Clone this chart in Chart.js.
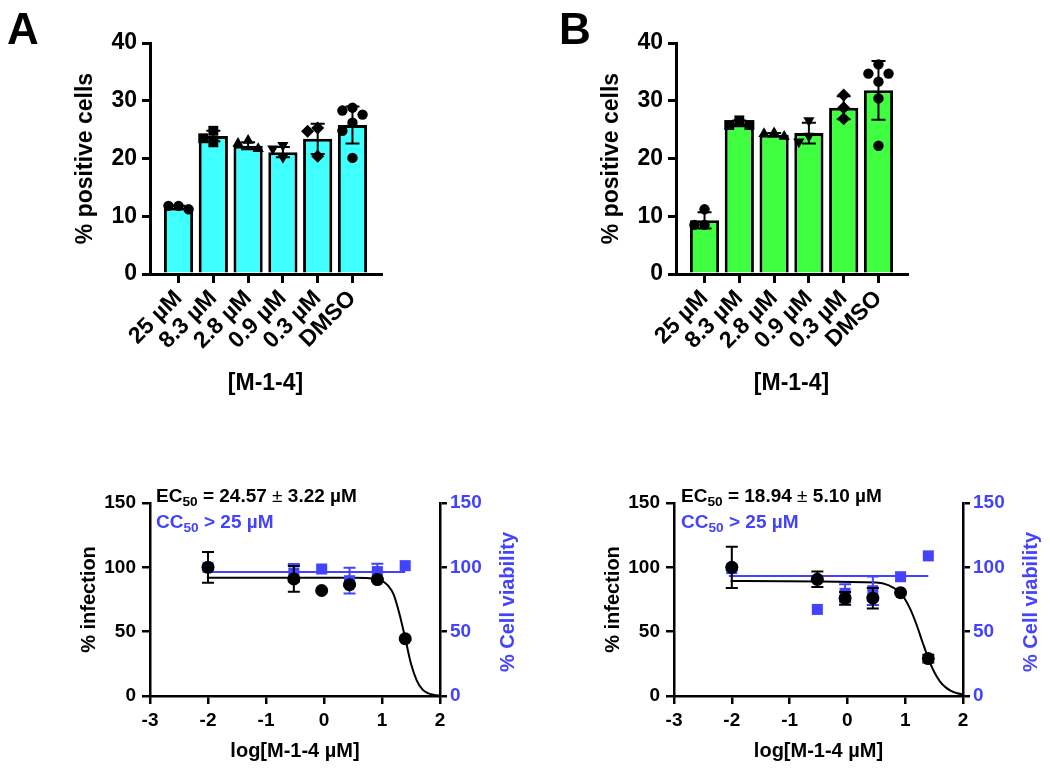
<!DOCTYPE html>
<html>
<head>
<meta charset="utf-8">
<script src="https://cdn.jsdelivr.net/npm/chart.js@4.4.1/dist/chart.umd.min.js"></script>
<style>
  body { margin: 0; background: #fff; font-family: 'Liberation Sans', Arial, sans-serif; }
  #wrap { position: relative; width: 1050px; height: 773px; overflow: hidden; }
  canvas { position: absolute; }
  .lbl { position: absolute; font-weight: bold; white-space: nowrap; line-height: 1; color: #000; }
  .lbl sub { font-size: 0.72em; vertical-align: -0.3em; line-height: 0; }
  .blue { color: #4343ff; }
  .side { transform: translate(-50%, -50%) rotate(-90deg); }
</style>
</head>
<body>
<div id="wrap">
  <canvas id="barA" width="420" height="420" style="left:0;top:0"></canvas>
  <canvas id="barB" width="420" height="420" style="left:526px;top:0"></canvas>
  <canvas id="fitA" width="540" height="333" style="left:0;top:440px"></canvas>
  <canvas id="fitB" width="526" height="333" style="left:524px;top:440px"></canvas>

  <div class="lbl" style="left:7px;top:7px;font-size:44px">A</div>
  <div class="lbl" style="left:559px;top:7px;font-size:44px">B</div>

  <div class="lbl" style="left:156px;top:486px;font-size:19px">EC<sub>50</sub> = 24.57 <span style="font-weight:normal">±</span> 3.22 µM</div>
  <div class="lbl blue" style="left:156px;top:512px;font-size:19px">CC<sub>50</sub> &gt; 25 µM</div>
  <div class="lbl" style="left:681px;top:486px;font-size:19px">EC<sub>50</sub> = 18.94 <span style="font-weight:normal">±</span> 5.10 µM</div>
  <div class="lbl blue" style="left:681px;top:512px;font-size:19px">CC<sub>50</sub> &gt; 25 µM</div>

  <div class="lbl blue side" style="left:507px;top:602px;font-size:20px">% Cell viability</div>
  <div class="lbl blue side" style="left:1030px;top:602px;font-size:20px">% Cell viability</div>
</div>
<script>
// top panels: % positive cells per dose
const doses = ['25 µM', '8.3 µM', '2.8 µM', '0.9 µM', '0.3 µM', 'DMSO'];
const markers = ['circle', 'rect', 'triangle', 'triangleDown', 'rectRot', 'circle'];

const meanA = [11.5, 23.9, 22.2, 21.1, 23.4, 25.8];
const sdA = [0.3, 0.9, 0.6, 0.9, 2.6, 3.2];
const ptsA = [
  [11.2, 11.8, 11.8],
  [24.8, 22.8, 23.5],
  [21.7, 23.1, 22.6],
  [20.2, 22.3, 21.7],
  [25.3, 24.7, 20.4],
  [28.3, 28.8, 27.6, 26.2, 24.8, 20.1]
];

const meanB = [9.3, 26.1, 24.1, 24.4, 28.8, 31.8];
const sdB = [1.4, 0.5, 0.3, 1.8, 2.0, 5.1];
const ptsB = [
  [8.5, 11.2, 8.5],
  [25.8, 26.6, 25.8],
  [23.8, 24.4, 24.3],
  [26.6, 22.9, 23.9],
  [31.0, 28.8, 26.9],
  [36.3, 34.7, 34.7, 33.3, 30.4, 22.2]
];

// bottom panels: dose response
const logConc = [-2, -0.52, -0.04, 0.44, 0.92, 1.4];
const infA = [100, 91, 82, 86.5, 90.5, 44.5];
const infErrA = [12, 10, 0, 1, 1, 1];
const viaA = [100, 95.6, 98.7, 89.6, 96.7, 101.3];
const viaErrA = [2, 7, 0, 10, 6, 0];

const infB = [100, 90.7, 75.9, 76, 80.3, 29.1];
const infErrB = [16, 6, 5, 8, 0, 3];
const viaB = [99, 67.3, 79.8, 81.8, 92.7, 108.9];
const viaErrB = [1, 0, 7, 11, 0, 0];

// fitted curves
const curveX = [-2.02, 0.5, 0.9, 1.0, 1.1, 1.2, 1.3, 1.4, 1.5, 1.6, 1.7, 1.8, 1.9, 2.0];
const curveA = [92, 92, 91, 89.5, 86, 79, 64, 45, 25, 12, 5, 2, 0.8, 0.3];
const curveB = [89.4, 88.2, 80.8, 75, 66.4, 55, 41.8, 29.2, 18.8, 11.4, 6.7, 3.8, 2.1, 1.2];
const viaFitX = [-2.05, 1.4];
const viaFitA = [96.4, 96.4];
const viaFitB = [93.3, 93.3];

const BLUE = '#4343ff';
Chart.defaults.font.family = "'Liberation Sans', Arial, sans-serif";
Chart.defaults.font.weight = 'bold';
Chart.defaults.color = '#000';

// mean ± SD whiskers
const errorBars = {
  id: 'errorBars',
  afterDatasetDraw(chart, args) {
    const ds = chart.data.datasets[args.index];
    if (!ds.errors) return;
    const meta = args.meta;
    const y = chart.scales[meta.yAxisID];
    const ctx = chart.ctx;
    const cap = ds.errorCap || 6;
    ctx.save();
    ctx.strokeStyle = ds.errorColor || '#000';
    ctx.lineWidth = ds.errorWidth || 2;
    meta.data.forEach((el, i) => {
      const e = ds.errors[i];
      if (!e) return;
      const v = ds.data[i].y;
      const top = y.getPixelForValue(v + e), bot = y.getPixelForValue(v - e);
      ctx.beginPath();
      ctx.moveTo(el.x, top); ctx.lineTo(el.x, bot);
      ctx.moveTo(el.x - cap, top); ctx.lineTo(el.x + cap, top);
      ctx.moveTo(el.x - cap, bot); ctx.lineTo(el.x + cap, bot);
      ctx.stroke();
    });
    ctx.restore();
  }
};

// beeswarm: put each replicate in the first free column (centre, left, right...)
function swarm(vals, step, gap) {
  const idx = vals.map((v, i) => i).sort((a, b) => vals[b] - vals[a]);
  const slots = [0, -1, 1, -2, 2];
  const placed = [];
  const off = new Array(vals.length).fill(0);
  idx.forEach(i => {
    const s = slots.find(c => !placed.some(p => p.s === c && Math.abs(p.v - vals[i]) < gap));
    off[i] = s * step;
    placed.push({ s, v: vals[i] });
  });
  return off;
}

function barPanel(id, means, sds, pts, fill) {
  const pointSets = pts.map((vals, i) => {
    const off = swarm(vals, 0.29, 1.7);
    const m = markers[i];
    return {
      type: 'scatter',
      data: vals.map((v, j) => ({ x: i + off[j], y: v })),
      pointStyle: m === 'triangleDown' ? 'triangle' : m,
      pointRotation: m === 'triangleDown' ? 180 : 0,
      pointRadius: m === 'circle' ? 5.2 : m === 'rect' ? 7 : 6.5,
      pointBackgroundColor: '#000',
      pointBorderWidth: 0,
      clip: false,
      order: 0
    };
  });

  new Chart(document.getElementById(id), {
    type: 'bar',
    data: {
      datasets: [{
        data: means.map((m, i) => ({ x: i, y: m })),
        errors: sds,
        errorCap: 7,
        backgroundColor: fill,
        borderColor: '#000',
        borderWidth: 3,
        categoryPercentage: 1,
        barPercentage: 0.84,
        order: 2
      }, ...pointSets]
    },
    options: {
      responsive: false,
      animation: false,
      layout: { padding: { left: 0, top: 43, right: 39, bottom: 0 } },
      plugins: { legend: { display: false }, tooltip: { enabled: false } },
      scales: {
        x: {
          type: 'linear', min: -0.82, max: 5.82, offset: false,
          afterBuildTicks: s => { s.ticks = doses.map((d, i) => ({ value: i })); },
          afterFit: s => { s.height = 146; },
          grid: { display: true, drawOnChartArea: false, offset: false, tickLength: 9, lineWidth: 3, color: '#000' },
          border: { display: true, color: '#000', width: 3 },
          ticks: {
            autoSkip: false, minRotation: 45, maxRotation: 45, padding: 2,
            font: { size: 23, weight: 'bold' }, color: '#000',
            callback: v => doses[v]
          },
          title: { display: true, text: '[M-1-4]', font: { size: 23, weight: 'bold' }, color: '#000', padding: { top: 0, bottom: 23 } }
        },
        y: {
          min: 0, max: 40,
          afterFit: s => { s.width = 150; },
          grid: { display: true, drawOnChartArea: false, tickLength: 8, lineWidth: 3, color: '#000' },
          border: { display: true, color: '#000', width: 3 },
          ticks: { stepSize: 10, padding: 5, font: { size: 23, weight: 'bold' }, color: '#000' },
          title: { display: true, text: '% positive cells', font: { size: 23, weight: 'bold' }, color: '#000', padding: { top: 72, bottom: 0 } }
        }
      }
    },
    plugins: [errorBars]
  });
}

function fitPanel(id, inf, infErr, via, viaErr, curve, viaFit, rightWidth) {
  new Chart(document.getElementById(id), {
    type: 'scatter',
    data: {
      datasets: [
        {
          data: logConc.map((x, i) => ({ x, y: inf[i] })),
          errors: infErr, errorCap: 6, errorColor: '#000',
          pointStyle: 'circle', pointRadius: 6.5,
          pointBackgroundColor: '#000', pointBorderWidth: 0,
          yAxisID: 'y', clip: false, order: 0
        },
        {
          data: logConc.map((x, i) => ({ x, y: via[i] })),
          errors: viaErr, errorCap: 6, errorColor: BLUE,
          pointStyle: 'rect', pointRadius: 7.8,
          pointBackgroundColor: BLUE, pointBorderWidth: 0,
          yAxisID: 'y2', clip: false, order: 1
        },
        {
          data: curveX.map((x, i) => ({ x, y: curve[i] })),
          showLine: true, cubicInterpolationMode: 'monotone',
          borderColor: '#000', borderWidth: 2, pointRadius: 0,
          yAxisID: 'y', clip: false, order: 2
        },
        {
          data: viaFitX.map((x, i) => ({ x, y: viaFit[i] })),
          showLine: true, borderColor: BLUE, borderWidth: 2, pointRadius: 0,
          yAxisID: 'y2', clip: false, order: 3
        }
      ]
    },
    options: {
      responsive: false,
      animation: false,
      layout: { padding: { left: 0, top: 63, right: 0, bottom: 0 } },
      plugins: { legend: { display: false }, tooltip: { enabled: false } },
      scales: {
        x: {
          type: 'linear', min: -3, max: 2,
          afterFit: s => { s.height = 77; },
          grid: { display: true, drawOnChartArea: false, tickLength: 8, lineWidth: 2.5, color: '#000' },
          border: { display: true, color: '#000', width: 2.5 },
          ticks: { stepSize: 1, padding: 5, font: { size: 19, weight: 'bold' }, color: '#000' },
          title: { display: true, text: 'log[M-1-4 µM]', font: { size: 20, weight: 'bold' }, color: '#000', padding: { top: 0, bottom: 10 } }
        },
        y: {
          position: 'left', min: 0, max: 150,
          afterFit: s => { s.width = 150; },
          grid: { display: true, drawOnChartArea: false, tickLength: 8, lineWidth: 2.5, color: '#000' },
          border: { display: true, color: '#000', width: 2.5 },
          ticks: { stepSize: 50, padding: 6, font: { size: 19, weight: 'bold' }, color: '#000' },
          title: { display: true, text: '% infection', font: { size: 20, weight: 'bold' }, color: '#000', padding: { top: 77, bottom: 0 } }
        },
        y2: {
          position: 'right', min: 0, max: 150,
          afterFit: s => { s.width = rightWidth; },
          grid: { display: true, drawOnChartArea: false, tickLength: 7, lineWidth: 2.5, color: '#000' },
          border: { display: true, color: '#000', width: 2.5 },
          ticks: { stepSize: 50, padding: 3, font: { size: 19, weight: 'bold' }, color: BLUE }
        }
      }
    },
    plugins: [errorBars]
  });
}

barPanel('barA', meanA, sdA, ptsA, '#40ffff');
barPanel('barB', meanB, sdB, ptsB, '#40ff40');
fitPanel('fitA', infA, infErrA, viaA, viaErrA, curveA, viaFitA, 100);
fitPanel('fitB', infB, infErrB, viaB, viaErrB, curveB, viaFitB, 87);
</script>
</body>
</html>
